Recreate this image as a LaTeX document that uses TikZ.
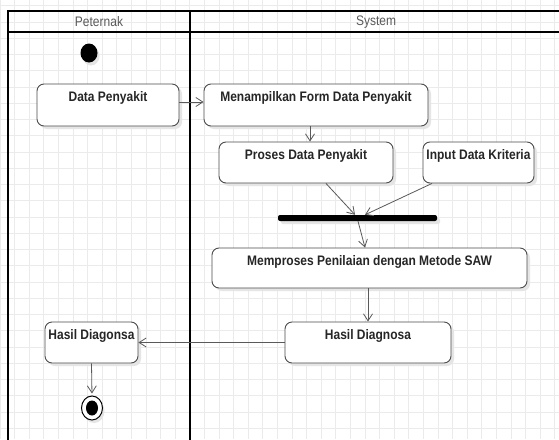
\documentclass[tikz,border=0pt]{standalone}
\usepackage{fontspec}
\setmainfont{Liberation Sans}
\usepackage{graphicx}
\usetikzlibrary{arrows.meta,shadows,shapes.geometric}
\newcommand\vstretch[1]{\scalebox{1}[1.15]{#1}}
\begin{document}
\begin{tikzpicture}[x=1pt,y=-1pt,
  gridline/.style={draw=black!8, line width=0.8pt},
  lane/.style={draw=black, line width=1.6pt},
  hdr/.style={font=\fontsize{12}{14}\selectfont, text=black!65, inner sep=0pt},
  act/.style={draw=black!70, line width=0.9pt, rounded corners=7pt, fill=white, inner sep=0pt,
    drop shadow={shadow xshift=3pt, shadow yshift=-3pt, fill=black!10, opacity=1}},
  lbl/.style={font=\fontsize{12}{14}\selectfont\bfseries, text=black!85, inner sep=0pt, anchor=north, yshift=-8pt},
  arr/.style={draw=black!65, line width=0.8pt, -{Straight Barb[length=7pt,width=9pt]}},
  forkbar/.style={fill=black, inner sep=0pt, rounded corners=2pt, minimum width=159pt, minimum height=6pt,
    drop shadow={shadow xshift=3pt, shadow yshift=-3pt, fill=black!10, opacity=1}},
  startdot/.style={ellipse, fill=black, inner sep=0pt, minimum width=17pt, minimum height=19pt,
    drop shadow={shadow xshift=2pt, shadow yshift=-3pt, fill=black!10, opacity=1}},
  endouter/.style={ellipse, draw=black, line width=1pt, fill=white, inner sep=0pt, minimum width=21pt, minimum height=24pt,
    drop shadow={shadow xshift=2pt, shadow yshift=-3pt, fill=black!10, opacity=1}},
  endinner/.style={ellipse, fill=black, inner sep=0pt, minimum width=12pt, minimum height=15pt}
]
\useasboundingbox (0,0) rectangle (559,439);
\fill[white] (0,0) rectangle (559,439);
% grid
\foreach \i in {0,...,38} \draw[gridline] (14.6*\i,0) -- (14.6*\i,439);
\foreach \j in {0,...,26} \draw[gridline] (0,5.8+16.25*\j) -- (559,5.8+16.25*\j);
% swimlanes
\draw[lane] (8,11) rectangle (580,470);
\draw[lane] (8,32) -- (580,32);
\draw[lane] (190,11) -- (190,470);
\node[hdr] (lp) at (99,22) {\vstretch{Peternak}};
\node[hdr] (ls) at (376,22) {\vstretch{System}};
% nodes
\node[startdot] (start) at (89,53) {};
\node[act, minimum width=142pt, minimum height=42pt, label={[lbl]north:\vstretch{Data Penyakit}}] (dp) at (108,105) {};
\node[act, minimum width=224pt, minimum height=42pt, label={[lbl]north:\vstretch{Menampilkan Form Data Penyakit}}] (mf) at (316,105) {};
\node[act, minimum width=174pt, minimum height=41pt, label={[lbl]north:\vstretch{Proses Data Penyakit}}] (pd) at (306,162.5) {};
\node[act, minimum width=111pt, minimum height=41pt, label={[lbl]north:\vstretch{Input Data Kriteria}}] (ik) at (478.5,162.5) {};
\node[forkbar] (bar) at (357.5,218) {};
\node[act, minimum width=315pt, minimum height=40pt, label={[lbl]north:\vstretch{Memproses Penilaian dengan Metode SAW}}] (mp) at (369.5,268) {};
\node[act, minimum width=166pt, minimum height=41pt, label={[lbl]north:\vstretch{Hasil Diagnosa}}] (hd) at (368,342.5) {};
\node[act, minimum width=93pt, minimum height=41pt, label={[lbl]north:\vstretch{Hasil Diagonsa}}] (hg) at (91.5,342.5) {};
\node[endouter] (end) at (92,408) {};
\node[endinner] (endin) at (end) {};
% connectors
\draw[arr] ([yshift=3pt]dp.east) -- ([yshift=3pt]mf.west);
\draw[arr] ([xshift=-6pt]mf.south) coordinate (a1) -- (a1 |- pd.north);
\draw[arr] ([xshift=20pt]pd.south) -- ([xshift=-2.5pt]bar.north);
\draw[arr] ([xshift=-46.5pt]ik.south) -- ([xshift=7.5pt]bar.north);
\draw[arr] ([xshift=0.5pt]bar.south) -- ([xshift=-4.5pt]mp.north);
\draw[arr] ([xshift=-1.5pt]mp.south) -- (hd.north);
\draw[arr] (hd.west) -- (hg.east);
\draw[arr, shorten >=2pt] (hg.south) -- (end.north);
\end{tikzpicture}
\end{document}
